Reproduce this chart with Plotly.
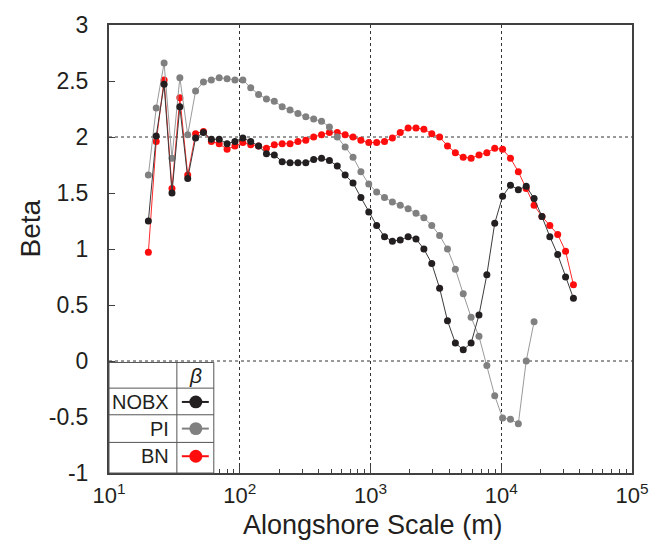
import plotly.graph_objects as go

# Alongshore scale (m)
scale_m = [20, 22.97, 26.39, 30.31, 34.82, 40, 45.95, 52.78, 60.63, 69.64,
           80, 91.9, 105.6, 121.3, 139.3, 160, 183.8, 211.1, 242.5, 278.6,
           320, 367.6, 422.2, 485.0, 557.1, 640, 735.2, 844.5, 970.1, 1114.3,
           1280, 1470.3, 1689.0, 1940.1, 2228.7, 2560, 2940.6, 3377.9, 3880.3, 4457.3,
           5120, 5881.3, 6755.8, 7760.5, 8914.4, 10240, 11762.7, 13511.6, 15521.0, 17829.0,
           20480, 23525, 27023, 31042, 35658]

beta_nobx = [1.25, 2.01, 2.47, 1.50, 2.27, 1.63, 1.99, 2.04, 1.98, 1.98,
             1.94, 1.96, 1.99, 1.96, 1.92, 1.85, 1.84, 1.78, 1.77, 1.77,
             1.77, 1.80, 1.81, 1.79, 1.74, 1.66, 1.59, 1.46, 1.33, 1.21,
             1.11, 1.07, 1.08, 1.11, 1.09, 1.00, 0.87, 0.65, 0.36, 0.16,
             0.10, 0.16, 0.41, 0.77, 1.23, 1.47, 1.57, 1.53, 1.56, 1.45,
             1.29, 1.11, 0.95, 0.75, 0.56]

beta_pi = [1.66, 2.26, 2.66, 1.81, 2.53, 2.02, 2.41, 2.49, 2.51, 2.53,
           2.52, 2.51, 2.51, 2.44, 2.38, 2.34, 2.32, 2.27, 2.24, 2.21,
           2.18, 2.16, 2.14, 2.09, 2.00, 1.91, 1.82, 1.69, 1.58, 1.51,
           1.46, 1.42, 1.39, 1.36, 1.32, 1.28, 1.21, 1.12, 1.00, 0.82,
           0.60, 0.39, 0.22, -0.04, -0.31, -0.51, -0.52, -0.56, 0.00, 0.35]

beta_bn = [0.97, 1.96, 2.51, 1.54, 2.35, 1.66, 2.03, 2.05, 1.96, 1.94,
           1.89, 1.92, 1.95, 1.93, 1.92, 1.90, 1.93, 1.94, 1.94, 1.96,
           1.97, 2.00, 2.02, 2.04, 2.04, 2.02, 2.00, 1.97, 1.95, 1.95,
           1.96, 1.99, 2.04, 2.08, 2.08, 2.07, 2.03, 2.00, 1.92, 1.86,
           1.82, 1.81, 1.84, 1.86, 1.90, 1.89, 1.81, 1.69, 1.54, 1.39,
           1.29, 1.21, 1.13, 0.98, 0.68]

series_names = ["NOBX", "PI", "BN"]
marker_colors = ["#231f20", "#808080", "#ff0d0d"]
line_colors = ["#3c3c3c", "#9a9a9a", "#ff2a2a"]

x_tickvals = [10, 100, 1000, 10000, 100000]
x_ticktext = ["10<sup>1</sup>", "10<sup>2</sup>", "10<sup>3</sup>", "10<sup>4</sup>", "10<sup>5</sup>"]
y_tickvals = [-1, -0.5, 0, 0.5, 1, 1.5, 2, 2.5, 3]
y_ticktext = ["-1", "-0.5", "0", "0.5", "1", "1.5", "2", "2.5", "3"]
ref_levels = [0, 2]

FONT = "Liberation Sans, Arial, sans-serif"
TXT = "#231f20"

fig = go.Figure()

data = {"NOBX": beta_nobx, "PI": beta_pi, "BN": beta_bn}
for idx in [2, 1, 0]:
    name = series_names[idx]
    vals = data[name]
    fig.add_trace(go.Scatter(
        x=scale_m[:len(vals)], y=vals, mode="lines+markers", name=name,
        line=dict(color=line_colors[idx], width=1),
        marker=dict(color=marker_colors[idx], size=7, line=dict(width=0)),
        showlegend=False,
    ))

shapes = []
for lv in ref_levels:
    shapes.append(dict(type="line", xref="paper", yref="y", x0=0, x1=1, y0=lv, y1=lv,
                       line=dict(color="#333333", width=1, dash="dot"), layer="below"))

# custom legend table (paper coords)
W, H = 524.0, 454.0
def px(v):
    return (v - 109) / W
def py(v):
    return (473 - v) / H

tbl = dict(color="#555555", width=1)
shapes.append(dict(type="rect", xref="paper", yref="paper", x0=px(109), x1=px(214),
                   y0=py(473), y1=py(361), line=tbl, fillcolor="white", layer="above"))
shapes.append(dict(type="line", xref="paper", yref="paper", x0=px(177), x1=px(177),
                   y0=py(473), y1=py(361), line=tbl))
for yy in [387, 414, 442]:
    shapes.append(dict(type="line", xref="paper", yref="paper", x0=px(109), x1=px(214),
                       y0=py(yy), y1=py(yy), line=tbl))

row_y = [401, 428, 456]
annotations = []
for i, name in enumerate(series_names):
    cy = row_y[i]
    annotations.append(dict(x=px(171), y=py(cy), xref="paper", yref="paper", text=name,
                            showarrow=False, xanchor="right", yanchor="middle",
                            font=dict(family=FONT, size=20, color=TXT)))
    shapes.append(dict(type="line", xref="paper", yref="paper", x0=px(182), x1=px(209),
                       y0=py(cy), y1=py(cy), line=dict(color=marker_colors[i], width=2)))
    shapes.append(dict(type="circle", xref="paper", yref="paper", x0=px(189.5), x1=px(202.5),
                       y0=py(cy + 6.5), y1=py(cy - 6.5), fillcolor=marker_colors[i],
                       line=dict(width=0)))

annotations.append(dict(x=px(196), y=py(374), xref="paper", yref="paper", text="<i>β</i>",
                        showarrow=False, xanchor="center", yanchor="middle",
                        font=dict(family=FONT, size=21, color=TXT)))
annotations.append(dict(x=px(30), y=py(225), xref="paper", yref="paper", text="Beta",
                        showarrow=False, textangle=-90, xanchor="center", yanchor="middle",
                        font=dict(family=FONT, size=28, color=TXT)))
annotations.append(dict(x=px(374), y=py(526), xref="paper", yref="paper",
                        text="Alongshore Scale (m)", showarrow=False,
                        xanchor="center", yanchor="middle",
                        font=dict(family=FONT, size=27, color=TXT)))

fig.update_layout(
    width=661, height=551,
    margin=dict(l=109, r=28, t=19, b=78),
    paper_bgcolor="white", plot_bgcolor="white",
    font=dict(family=FONT, color=TXT),
    shapes=shapes, annotations=annotations,
)
fig.update_xaxes(
    type="log", range=[1, 5], tickvals=x_tickvals, ticktext=x_ticktext,
    showgrid=True, gridcolor="#333333", griddash="dot", gridwidth=1,
    showline=True, linecolor="#404040", linewidth=2, mirror=True,
    ticks="inside", ticklen=7, tickcolor="#404040", tickwidth=1,
    minor=dict(ticks="inside", ticklen=4, dtick="D1", tickcolor="#404040", showgrid=False),
    tickfont=dict(family=FONT, size=22, color=TXT), zeroline=False,
    ticklabelstandoff=2,
)
fig.update_yaxes(
    range=[-1, 3], tickvals=y_tickvals, ticktext=y_ticktext,
    showgrid=False, zeroline=False,
    showline=True, linecolor="#404040", linewidth=2, mirror=True,
    ticks="inside", ticklen=6, tickcolor="#404040", tickwidth=1,
    tickfont=dict(family=FONT, size=23, color=TXT), ticklabelstandoff=14,
)

fig.write_html("out.html")
